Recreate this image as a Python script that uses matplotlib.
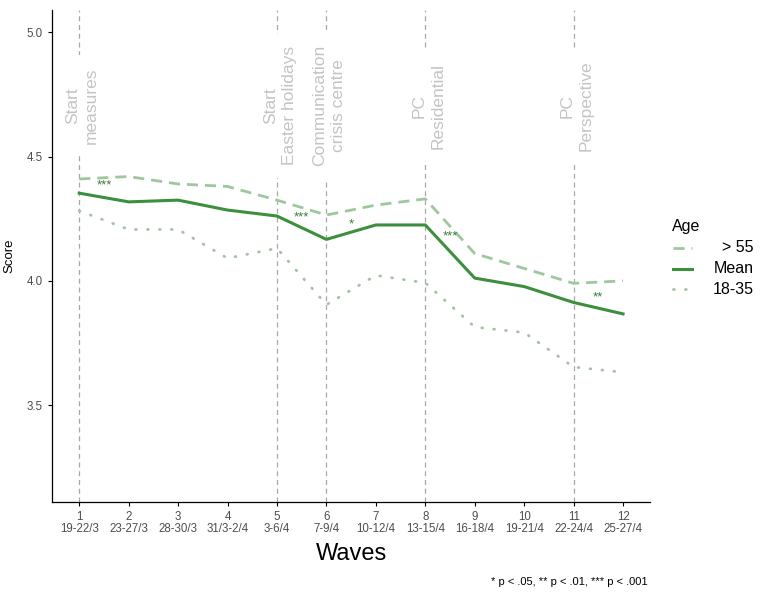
import matplotlib.pyplot as plt
from matplotlib.lines import Line2D

waves = list(range(1, 13))
wave_dates = ['19-22/3', '23-27/3', '28-30/3', '31/3-2/4', '3-6/4', '7-9/4',
              '10-12/4', '13-15/4', '16-18/4', '19-21/4', '22-24/4', '25-27/4']

score_old = [4.41, 4.42, 4.39, 4.38, 4.325, 4.265, 4.305, 4.33, 4.11, 4.05, 3.99, 4.0]
score_mean = [4.353, 4.318, 4.325, 4.285, 4.261, 4.167, 4.225, 4.225, 4.011, 3.977, 3.913, 3.867]
score_young = [4.282, 4.207, 4.207, 4.091, 4.131, 3.904, 4.022, 3.992, 3.814, 3.792, 3.653, 3.632]

event_waves = [1, 5, 6, 8, 11]
event_labels = ['Start\nmeasures', 'Start\nEaster holidays', 'Communication\ncrisis centre',
                'PC\nResidential', 'PC\nPerspective']

star_x = [1.5, 5.5, 6.5, 8.5, 11.5]
star_y = [4.386, 4.257, 4.229, 4.177, 3.932]
star_text = ['***', '***', '*', '***', '**']

legend_labels = ['> 55', 'Mean', '18-35']

plt.rcParams['font.family'] = ['Liberation Sans', 'DejaVu Sans']

fig = plt.figure(figsize=(7.65, 5.94), dpi=100)
ax = fig.add_axes([0.068, 0.155, 0.782, 0.828])

for w, lab in zip(event_waves, event_labels):
    ax.axvline(w, color='#a8a8a8', linestyle=(0, (4, 3)), linewidth=0.9, zorder=1)
    ax.text(w + 0.06, 4.705, lab, rotation=90, ha='center', va='center', fontsize=12.5,
            color='#c4c4c4', linespacing=1.35, zorder=2,
            bbox=dict(facecolor='white', edgecolor='none', pad=9))

old_style = dict(color='#9fc69f', linewidth=2, dashes=(4, 2.5))
mean_style = dict(color='#3c8f3c', linewidth=2.2)
young_style = dict(color='#a3c2a3', linewidth=2, linestyle=(0, (0.3, 4)),
                   dash_capstyle='round')

ax.plot(waves, score_old, zorder=3, **old_style)
ax.plot(waves, score_mean, zorder=4, **mean_style)
ax.plot(waves, score_young, zorder=3, **young_style)

for x, y, s in zip(star_x, star_y, star_text):
    ax.text(x, y, s, ha='center', va='center', fontsize=9.5, color='#3c7a3c', zorder=5)

ax.set_xlim(0.45, 12.55)
ax.set_ylim(3.11, 5.09)
ax.set_yticks([3.5, 4.0, 4.5, 5.0])
ax.set_yticklabels(['3.5', '4.0', '4.5', '5.0'])
ax.set_xticks(waves)
ax.set_xticklabels([f'{w}\n{d}' for w, d in zip(waves, wave_dates)], linespacing=1.0)
ax.tick_params(axis='both', colors='#4d4d4d', labelsize=8.3, length=3, width=0.8)
ax.tick_params(axis='both', color='black')
for side in ['top', 'right']:
    ax.spines[side].set_visible(False)
for side in ['left', 'bottom']:
    ax.spines[side].set_linewidth(0.9)

ax.set_xlabel('Waves', fontsize=17, labelpad=6)
ax.set_ylabel('Score', fontsize=9.5, labelpad=8)

# legend drawn by hand so labels can be right-aligned like the original
fig.text(672 / 765, 1 - 227 / 594, 'Age', ha='left', va='center', fontsize=11.5)
for i, (lab, st) in enumerate(zip(legend_labels, [old_style, mean_style, young_style])):
    yy = 1 - (248 + i * 20.5) / 594
    fig.add_artist(Line2D([673 / 765, 692 / 765], [yy, yy], **st))
    fig.text(754 / 765, yy, lab, ha='right', va='center', fontsize=11.5)

fig.text(0.846, 0.012, '* p < .05, ** p < .01, *** p < .001', ha='right', va='bottom',
         fontsize=8)

fig.savefig('out.png', dpi=100)
